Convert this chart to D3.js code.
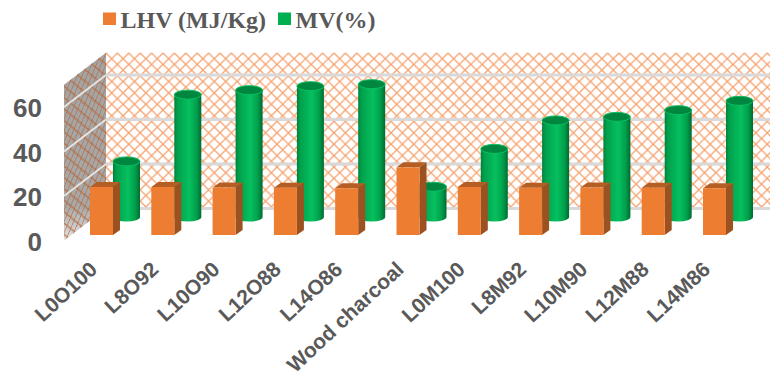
<!DOCTYPE html>
<html>
<head>
<meta charset="utf-8">
<script src="https://cdn.jsdelivr.net/npm/d3@7/dist/d3.min.js"></script>
<style>
html,body{margin:0;padding:0;background:#fff;overflow:hidden}
svg{display:block}
</style>
</head>
<body>
<svg id="chart" width="770" height="381"></svg>
<script>
const categories = ["L0O100","L8O92","L10O90","L12O88","L14O86","Wood charcoal","L0M100","L8M92","L10M90","L12M88","L14M86"];
const lhv = [21.6,21.6,21.3,21.2,21,30.4,21.6,21.2,21.3,21.2,21];
const mv = [25,55,57,58.8,59.7,13.6,30.6,43.4,45,48,52.2];
const yTicks = [0,20,40,60];
const seriesNames = ["LHV (MJ/Kg)","MV(%)"];

const svg = d3.select("#chart");
const defs = svg.append("defs");

// Lattice fill for the back wall
const lattice = defs.append("pattern").attr("id","lattice")
  .attr("patternUnits","userSpaceOnUse").attr("width",11.4).attr("height",11.4)
  .attr("x",106).attr("y",53);
lattice.append("rect").attr("width",11.4).attr("height",11.4).attr("fill","#fff");
lattice.append("path").attr("d","M0,0L11.4,11.4M11.4,0L0,11.4")
  .attr("stroke","#F5A26E").attr("stroke-width",1.3).attr("fill","none");

// Same lattice sheared onto the side wall
const latticeSide = defs.append("pattern").attr("id","latticeSide")
  .attr("patternUnits","userSpaceOnUse").attr("width",11.4).attr("height",11.4)
  .attr("patternTransform","matrix(0.62,-0.48,0,1,106,53)");
latticeSide.append("path").attr("d","M0,0L11.4,11.4M11.4,0L0,11.4")
  .attr("stroke","#B5673A").attr("stroke-width",1.05).attr("fill","none");

const sideShade = defs.append("linearGradient").attr("id","sideShade")
  .attr("x1",0).attr("y1",0).attr("x2",0).attr("y2",1);
sideShade.append("stop").attr("offset","0").attr("stop-color","#A4A4A4");
sideShade.append("stop").attr("offset","0.82").attr("stop-color","#A8A8A8");
sideShade.append("stop").attr("offset","1").attr("stop-color","#E4E4E4");

// Horizontal shading that rounds the cylinders
const tube = defs.append("linearGradient").attr("id","tube");
[["0","#00813C"],["0.12","#00A04C"],["0.55","#06C05F"],["0.82","#00A04C"],["1","#006B32"]]
  .forEach(([o,c]) => tube.append("stop").attr("offset",o).attr("stop-color",c));

// Scales shared by the walls and the bars
const x = d3.scalePoint().domain(categories).range([90,703]);
const rise = d3.scaleLinear().domain([0,70]).range([0,155.75]);
const wallBack = d3.scaleLinear().domain([0,70]).range([208.5,52.75]);
const wallFront = d3.scaleLinear().domain([0,70]).range([240.5,84.75]);
const wallLeft = 64, wallRight = 106, chartRight = 770;
const orangeBase = 235, greenBase = 217;
const barW = 23, depthX = 7, depthY = 5;
const tubeW = 27, tubeRy = 4.5;

// Walls
svg.append("rect").attr("x",wallRight).attr("y",wallBack(70))
  .attr("width",chartRight-wallRight).attr("height",wallBack(0)-wallBack(70))
  .attr("fill","url(#lattice)");
const sidePts = [[wallLeft,wallFront(70)],[wallRight,wallBack(70)],[wallRight,wallBack(0)],[wallLeft,wallFront(0)]].join(" ");
svg.append("polygon").attr("points",sidePts).attr("fill","url(#sideShade)");
svg.append("polygon").attr("points",sidePts).attr("fill","url(#latticeSide)");

// Gridlines across both walls
const grid = [0,20,40,60];
svg.selectAll("line.back").data(grid).join("line").attr("class","back")
  .attr("x1",wallRight).attr("x2",chartRight)
  .attr("y1",wallBack).attr("y2",wallBack)
  .attr("stroke","#D9D9D9").attr("stroke-width",3);
svg.selectAll("line.side").data(grid.slice(1)).join("line").attr("class","side")
  .attr("x1",wallLeft).attr("x2",wallRight)
  .attr("y1",wallFront).attr("y2",wallBack)
  .attr("stroke","#E4E4E4").attr("stroke-width",2);

// Green cylinders sit behind the orange blocks
const cyl = svg.append("g").selectAll("g").data(categories).join("g")
  .attr("transform",c => `translate(${x(c)+barW},0)`);
cyl.each(function(c,i){
  const g = d3.select(this);
  const top = greenBase - rise(mv[i]);
  const rx = tubeW/2;
  g.append("path")
    .attr("d",`M0,${top}V${greenBase}A${rx},${tubeRy} 0 0 0 ${tubeW},${greenBase}V${top}Z`)
    .attr("fill","url(#tube)");
  g.append("ellipse").attr("cx",rx).attr("cy",top).attr("rx",rx).attr("ry",tubeRy)
    .attr("fill","#00873F").attr("stroke","#0ABF62").attr("stroke-width",1);
});

// Orange blocks: front, top and side faces
const block = svg.append("g").selectAll("g").data(categories).join("g")
  .attr("transform",c => `translate(${x(c)},0)`);
block.each(function(c,i){
  const g = d3.select(this);
  const top = orangeBase - rise(lhv[i]);
  g.append("path").attr("fill","#9C5120")
    .attr("d",`M${barW},${top}l${depthX},${-depthY}V${orangeBase-depthY}l${-depthX},${depthY}Z`);
  g.append("path").attr("fill","#B45E24")
    .attr("d",`M0,${top}l${depthX},${-depthY}h${barW}l${-depthX},${depthY}Z`);
  g.append("rect").attr("y",top).attr("width",barW).attr("height",orangeBase-top).attr("fill","#ED7D31");
});

// Value axis
const yAxis = svg.append("g").attr("transform","translate(42,1.5)")
  .call(d3.axisLeft(wallFront).tickValues(yTicks).tickSize(0).tickPadding(0));
yAxis.select(".domain").remove();
yAxis.selectAll("text").attr("fill","#595959")
  .style("font","700 26px 'Liberation Sans'");

// Category axis with slanted labels
const xAxis = svg.append("g").attr("transform","translate(0,258)")
  .call(d3.axisBottom(x).tickSize(0).tickPadding(0));
xAxis.select(".domain").remove();
xAxis.selectAll("text").attr("fill","#595959")
  .style("font","700 21px 'Liberation Sans'")
  .attr("text-anchor","end")
  .attr("dx",0).attr("dy",0)
  .attr("transform","translate(8,13) rotate(-43)");

// Legend
const legendColor = d3.scaleOrdinal().domain(seriesNames).range(["#ED7D31","#00B050"]);
const legendX = d3.scaleOrdinal().domain(seriesNames).range([103,278]);
const legend = svg.append("g").selectAll("g").data(seriesNames).join("g")
  .attr("transform",d => `translate(${legendX(d)},0)`);
legend.append("rect").attr("y",12.5).attr("width",13).attr("height",12.5).attr("fill",legendColor);
legend.append("text").attr("x",17.5).attr("y",28).text(d => d)
  .attr("fill","#595959").style("font","700 24px 'Liberation Serif'");
</script>
</body>
</html>
